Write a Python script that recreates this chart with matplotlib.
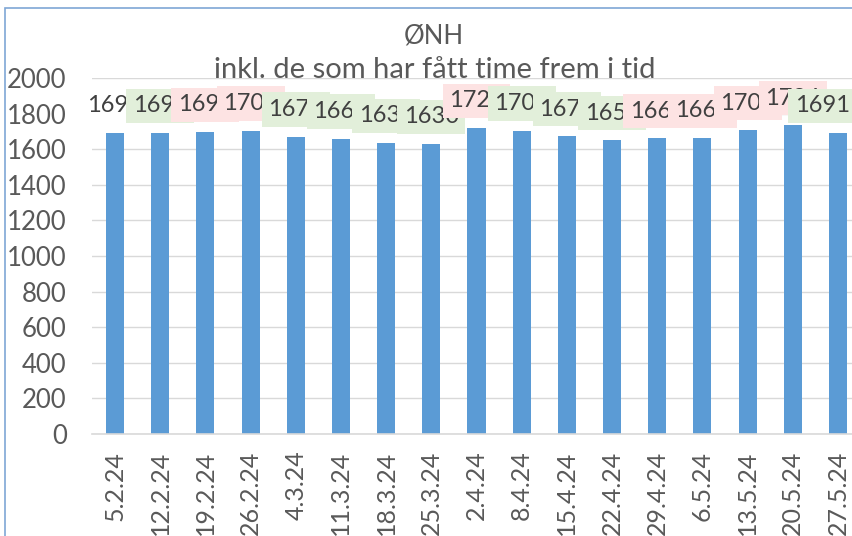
import matplotlib
matplotlib.use("Agg")
import matplotlib.pyplot as plt
from matplotlib.patches import Rectangle

dates = ["5.2.24", "12.2.24", "19.2.24", "26.2.24", "4.3.24", "11.3.24", "18.3.24",
         "25.3.24", "2.4.24", "8.4.24", "15.4.24", "22.4.24", "29.4.24", "6.5.24",
         "13.5.24", "20.5.24", "27.5.24"]
values = [1693, 1691, 1697, 1704, 1671, 1660, 1635, 1630, 1720, 1704, 1672, 1651,
          1661, 1663, 1706, 1734, 1691]
yticks = [0, 200, 400, 600, 800, 1000, 1200, 1400, 1600, 1800, 2000]

plt.rcParams['font.family'] = ['Lato', 'DejaVu Sans']
W, H = 852, 536
fig = plt.figure(figsize=(W / 100, H / 100), dpi=100)

# chart frame border
fig.patches.append(Rectangle((5 / W, -0.1), 1.2, (H - 8) / H + 0.1, transform=fig.transFigure,
                             fill=False, edgecolor='#7fa7d6', linewidth=1.2))

left, right = 92.4, 860.6
bottom, top = 434, 78
ax = fig.add_axes([left / W, (H - bottom) / H, (right - left) / W, (bottom - top) / H])
ax.patch.set_alpha(0)
x = list(range(len(values)))
ax.bar(x, values, width=0.4, color='#5b9bd5', zorder=2)
ax.set_xlim(-0.5, len(values) - 0.5)
ax.set_ylim(0, 2000)
ax.set_yticks(yticks)
ax.set_yticklabels([str(t) for t in yticks])
ax.set_xticks(x)
ax.set_xticklabels(dates, rotation=90)
ax.tick_params(axis='y', length=0, pad=18.5, labelsize=18.5, labelcolor='#595959')
ax.tick_params(axis='x', length=0, pad=12, labelsize=18, labelcolor='#595959')
ax.grid(axis='y', color='#d9d9d9', linewidth=1, zorder=0)
ax.set_axisbelow(True)
for s in ['top', 'right', 'left']:
    ax.spines[s].set_visible(False)
ax.spines['bottom'].set_color('#d9d9d9')
ax.spines['bottom'].set_linewidth(1.2)

labels = []
for i, v in enumerate(values):
    if i == 0:
        fc = 'white'
    elif v > values[i - 1]:
        fc = '#fde3e3'
    else:
        fc = '#e2efda'
    a = ax.annotate(str(v), (i, v), xytext=(0, 19.5), textcoords='offset points',
                    ha='center', va='center', fontsize=17, color='#404040', zorder=5 + i,
                    bbox=dict(boxstyle='square,pad=0.28', facecolor=fc, edgecolor='none'),
                    annotation_clip=False)
    labels.append(a)

fig.text(434 / W, 1 - 36 / H, "ØNH", ha='center', va='center', fontsize=18.5, color='#595959',
         zorder=-1)
fig.text(435 / W, 1 - 70 / H, "inkl. de som har fått time frem i tid", ha='center', va='center',
         fontsize=21, color='#595959', zorder=-1)

# keep data labels' text inside the chart area (as the original does for the last one)
fig.canvas.draw()
r = fig.canvas.get_renderer()
for a in labels:
    ext = a.get_window_extent(r)
    if ext.x1 > W - 2:
        shift_px = ext.x1 - (W - 2)
        a.xyann = (a.xyann[0] - shift_px * 72 / 100, a.xyann[1])

fig.savefig("out.png", dpi=100)
